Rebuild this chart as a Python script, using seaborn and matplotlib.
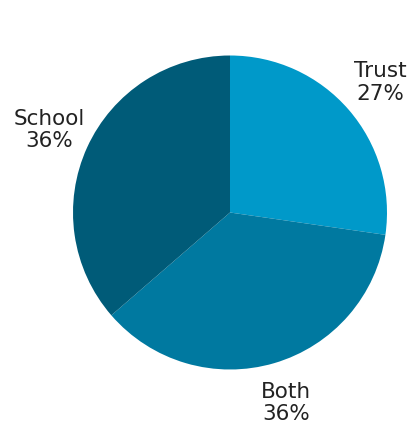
import matplotlib
matplotlib.use("Agg")
import matplotlib.pyplot as plt
import seaborn as sns

# Share of responses by who handles it
categories = ["Trust", "Both", "School"]
shares = [27, 36, 36]
colors = ["#0099c9", "#0079a0", "#005b78"]

sns.set_theme(style="white")
plt.rcParams["font.family"] = ["DejaVu Sans"]

W, H, DPI = 411, 423, 100
fig = plt.figure(figsize=(W / DPI, H / DPI), dpi=DPI)
fig.patch.set_facecolor("white")

# pie centre (230, 212.5) px, radius 157 px
cx, cy, r = 230, 212.5, 157
ax = fig.add_axes([(cx - r) / W, (H - cy - r) / H, 2 * r / W, 2 * r / H])

palette = sns.color_palette(colors)
labels = [f"{c}\n{v}%" for c, v in zip(categories, shares)]
wedges, texts = ax.pie(
    shares,
    labels=labels,
    colors=palette,
    startangle=90,
    counterclock=False,
    labeldistance=1.265,
    wedgeprops=dict(linewidth=0),
    textprops=dict(fontsize=15.5, color="#222222"),
)
for t in texts:
    t.set_ha("center")
    t.set_va("center")
    t.set_multialignment("center")
    t.set_linespacing(1.15)

ax.set_xlim(-1, 1)
ax.set_ylim(-1, 1)
ax.set_aspect("equal")
ax.axis("off")

fig.savefig("out.png", dpi=DPI, facecolor="white")
